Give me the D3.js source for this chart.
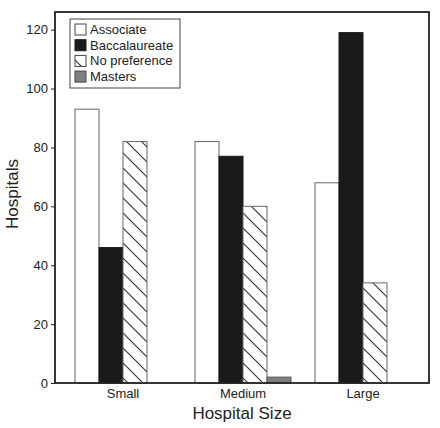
<!DOCTYPE html>
<html>
<head>
<meta charset="utf-8">
<script src="https://cdn.jsdelivr.net/npm/d3@7"></script>
<style>
  body { margin: 0; background: #fff; }
  text { font-family: "Liberation Sans", Arial, sans-serif; fill: #222; }
</style>
</head>
<body>
<svg id="chart" width="440" height="428"></svg>
<script>
const categories = ["Small", "Medium", "Large"];
const seriesNames = ["Associate", "Baccalaureate", "No preference", "Masters"];
const associate = [93, 82, 68];
const baccalaureate = [46, 77, 119];
const noPreference = [82, 60, 34];
const masters = [0, 2, 0];
const yTicks = [0, 20, 40, 60, 80, 100, 120];

(function () {
const seriesValues = [associate, baccalaureate, noPreference, masters];

const svg = d3.select("#chart");
const pLeft = 55, pRight = 429, pTop = 12, pBottom = 383;

const defs = svg.append("defs");
const pat = defs.append("pattern")
  .attr("id", "hatch")
  .attr("patternUnits", "userSpaceOnUse")
  .attr("width", 15).attr("height", 15);
pat.append("rect").attr("width", 15).attr("height", 15).attr("fill", "#fff");
pat.append("path")
  .attr("d", "M-4,-4 L19,19 M-4,11 L4,19 M11,-4 L19,4")
  .attr("stroke", "#333").attr("stroke-width", 1.1);

const fills = ["#ffffff", "#1a1a1a", "url(#hatch)", "#808080"];
const strokes = ["#666", "#1a1a1a", "#666", "#555"];

const y = d3.scaleLinear().domain([0, 126]).range([pBottom, pTop]);
const x0 = d3.scaleBand().domain(categories).range([63, 423])
  .paddingInner(0.2).paddingOuter(0.1);
const x1 = d3.scaleBand().domain(seriesNames).range([0, x0.bandwidth()]);

// bars
categories.forEach((cat, ci) => {
  seriesNames.forEach((s, si) => {
    const v = seriesValues[si][ci];
    if (v <= 0) return;
    svg.append("rect")
      .attr("x", x0(cat) + x1(s))
      .attr("y", y(v))
      .attr("width", x1.bandwidth())
      .attr("height", y(0) - y(v))
      .attr("fill", fills[si])
      .attr("stroke", strokes[si])
      .attr("stroke-width", 1);
  });
});

// frame
svg.append("rect")
  .attr("x", pLeft).attr("y", pTop)
  .attr("width", pRight - pLeft).attr("height", pBottom - pTop)
  .attr("fill", "none").attr("stroke", "#222").attr("stroke-width", 1.8);

// y axis
const yAxis = svg.append("g")
  .attr("transform", `translate(${pLeft},0)`)
  .call(d3.axisLeft(y).tickValues(yTicks).tickSize(4).tickPadding(3));
yAxis.select(".domain").remove();
yAxis.selectAll("line").attr("stroke", "#222");
yAxis.selectAll("text").style("font-size", "13px")
  .style("font-family", "'Liberation Sans', Arial, sans-serif").attr("fill", "#222");

// x axis labels
const xAxis = svg.append("g")
  .attr("transform", `translate(0,${pBottom})`)
  .call(d3.axisBottom(x0).tickSize(0).tickPadding(6));
xAxis.select(".domain").remove();
xAxis.selectAll("text").style("font-size", "13px")
  .style("font-family", "'Liberation Sans', Arial, sans-serif").attr("fill", "#222");

// titles
svg.append("text")
  .attr("x", (pLeft + pRight) / 2).attr("y", 419)
  .attr("text-anchor", "middle")
  .style("font-size", "17px")
  .text("Hospital Size");
svg.append("text")
  .attr("transform", "translate(18,194) rotate(-90)")
  .attr("text-anchor", "middle")
  .style("font-size", "17px")
  .text("Hospitals");

// legend
const lg = svg.append("g");
lg.append("rect")
  .attr("x", 70).attr("y", 19).attr("width", 110).attr("height", 69)
  .attr("fill", "#fff").attr("stroke", "#444").attr("stroke-width", 1);
seriesNames.forEach((s, i) => {
  const yy = 24 + i * 15.7;
  lg.append("rect")
    .attr("x", 75).attr("y", yy).attr("width", 11).attr("height", 11)
    .attr("fill", fills[i]).attr("stroke", i === 1 ? "#1a1a1a" : "#444").attr("stroke-width", 1);
  lg.append("text")
    .attr("x", 90).attr("y", yy + 10)
    .style("font-size", "13px")
    .text(s);
});
})();
</script>
</body>
</html>
